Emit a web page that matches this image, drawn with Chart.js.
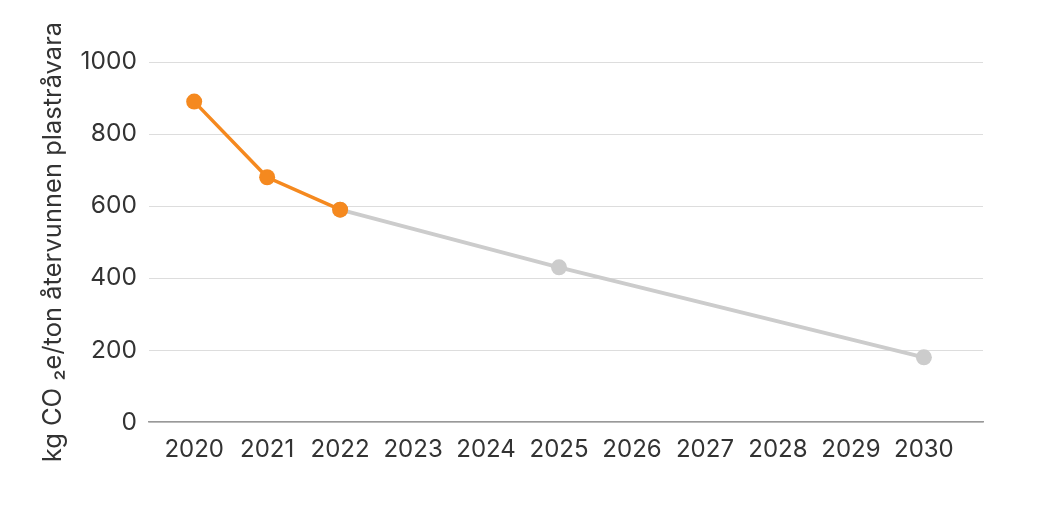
<!DOCTYPE html>
<html>
<head>
<meta charset="utf-8">
<style>
    html, body { margin: 0; padding: 0; background: #fff; }
    #wrap { width: 1042px; height: 511px; }
</style>
</head>
<body>
<div id="wrap"><canvas id="co2Chart"></canvas></div>
<script src="https://cdn.jsdelivr.net/npm/chart.js"></script>
<script>
    // Tick labels on the x axis
    const years = [2020, 2021, 2022, 2023, 2024, 2025, 2026, 2027, 2028, 2029, 2030];

    // Measured values
    const actualYears = [2020, 2021, 2022];
    const actualValues = [890, 680, 590];

    // Target path
    const targetYears = [2022, 2025, 2030];
    const targetValues = [590, 430, 180];

    const toPoints = (xs, ys) => xs.map((x, i) => ({ x: x, y: ys[i] }));

    Chart.defaults.font.family = 'Inter, "Noto Sans", sans-serif';
    Chart.defaults.color = '#333';

    new Chart(document.getElementById('co2Chart'), {
        type: 'line',
        data: {
            datasets: [
                {
                    label: 'Utfall',
                    data: toPoints(actualYears, actualValues),
                    borderColor: '#F5891F',
                    backgroundColor: '#F5891F',
                    borderWidth: 3.5,
                    pointRadius: 8,
                    pointHoverRadius: 8,
                    pointBorderWidth: 0,
                    order: 1
                },
                {
                    label: 'Mål',
                    data: toPoints(targetYears, targetValues),
                    borderColor: '#CCCCCC',
                    backgroundColor: '#CCCCCC',
                    borderWidth: 4,
                    pointRadius: 8,
                    pointHoverRadius: 8,
                    pointBorderWidth: 0,
                    order: 2
                }
            ]
        },
        options: {
            responsive: true,
            maintainAspectRatio: false,
            animation: false,
            layout: { padding: { left: 38, right: 59, top: 62, bottom: 34 } },
            plugins: {
                legend: { display: false },
                tooltip: { enabled: false }
            },
            scales: {
                x: {
                    type: 'linear',
                    min: 2019.38,
                    max: 2030.81,
                    afterBuildTicks: (axis) => { axis.ticks = years.map(v => ({ value: v })); },
                    grid: { display: false, drawTicks: false },
                    border: { color: '#999', width: 1.5 },
                    ticks: {
                        font: { size: 24 },
                        padding: 13,
                        maxRotation: 0,
                        autoSkip: false,
                        callback: (v) => String(v)
                    }
                },
                y: {
                    min: 0,
                    max: 1000,
                    grid: { color: '#DDDDDD', drawTicks: false },
                    border: { display: false },
                    ticks: { stepSize: 200, font: { size: 24.5 }, padding: 12, callback: (v) => String(v) },
                    title: {
                        display: true,
                        text: 'kg CO \u2082e/ton återvunnen plastråvara',
                        font: { size: 25.5 },
                        padding: { top: 0, bottom: 0 }
                    }
                }
            }
        }
    });
</script>
</body>
</html>
